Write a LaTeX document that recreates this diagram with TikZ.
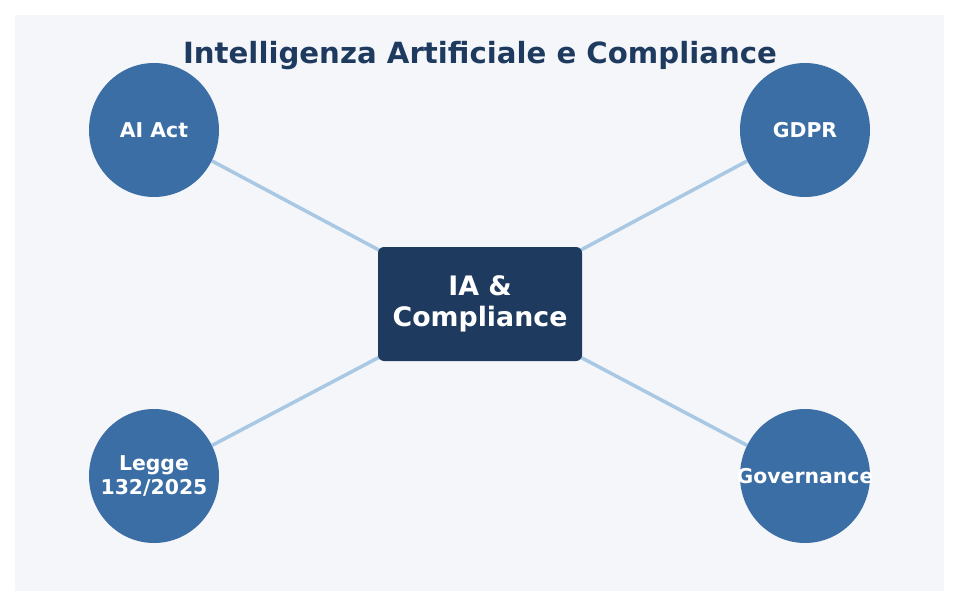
\documentclass[tikz,border=0pt]{standalone}
\usepackage{fontspec}
\setmainfont{DejaVu Sans}
\usetikzlibrary{shapes.geometric}
\definecolor{panel}{HTML}{F4F6FA}
\definecolor{navy}{HTML}{1F3A5F}
\definecolor{ellblue}{HTML}{3B6EA5}
\definecolor{linkblue}{HTML}{A8C8E4}
\pgfdeclarelayer{panellayer}
\pgfdeclarelayer{linklayer}
\pgfsetlayers{panellayer,linklayer,main}
\tikzset{
  topic/.style={ellipse, fill=ellblue, minimum width=130pt, minimum height=134pt, inner sep=0pt},
  topiclabel/.style={text=white, font=\bfseries\fontsize{20.4}{24}\selectfont, align=center, inner sep=0pt},
  hub/.style={rectangle, rounded corners=6pt, fill=navy, minimum width=204pt, minimum height=114pt,
    inner sep=0pt, text=white, font=\bfseries\fontsize{26.8}{31}\selectfont, align=center},
  link/.style={draw=linkblue, line width=3.5pt},
  titletext/.style={text=navy, font=\bfseries\fontsize{29.2}{34}\selectfont, inner sep=0pt}
}
\begin{document}
\begin{tikzpicture}[x=1pt,y=-1pt]
\useasboundingbox (0,0) rectangle (959,607);
\begin{pgfonlayer}{panellayer}
\fill[white] (0,0) rectangle (959,607);
\fill[panel] (15,15) rectangle (944,591);
\end{pgfonlayer}
\node[titletext] (title) at (480,56) {Intelligenza Artificiale e Compliance};
\node[topic] (aiact) at (154,130) {};
\node[topic] (gdpr) at (805,130) {};
\node[topic] (legge) at (154,476) {};
\node[topic] (gov) at (805,476) {};
\node[hub] (hub) at (480,304) {IA \&\\Compliance};
\node[topiclabel] (aiact-t) at (aiact) {AI Act};
\node[topiclabel] (gdpr-t) at (gdpr) {GDPR};
\node[topiclabel] (legge-t) at (legge) {Legge\\132/2025};
\node[topiclabel] (gov-t) at (gov) {Governance};
\begin{pgfonlayer}{linklayer}
\draw[link] (aiact) -- (hub.center);
\draw[link] (gdpr) -- (hub.center);
\draw[link] (legge) -- (hub.center);
\draw[link] (gov) -- (hub.center);
\end{pgfonlayer}
\end{tikzpicture}
\end{document}
